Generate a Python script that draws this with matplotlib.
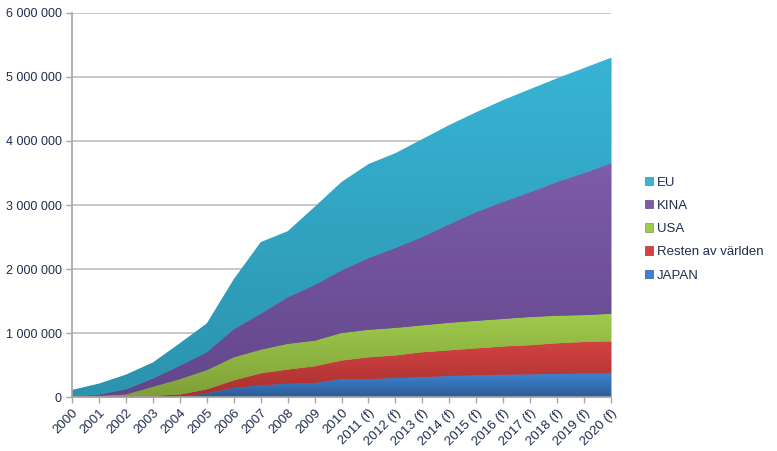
import numpy as np
import matplotlib.pyplot as plt
from matplotlib.colors import LinearSegmentedColormap
from matplotlib.patches import Patch, Polygon
from matplotlib.ticker import FuncFormatter

plt.rcParams['font.family'] = ['Liberation Sans', 'DejaVu Sans']

years = ['2000', '2001', '2002', '2003', '2004', '2005', '2006', '2007', '2008', '2009',
         '2010', '2011 (f)', '2012 (f)', '2013 (f)', '2014 (f)', '2015 (f)', '2016 (f)',
         '2017 (f)', '2018 (f)', '2019 (f)', '2020 (f)']

japan = [0, 0, 0, 0, 5000, 60000, 145000, 185000, 210000, 220000, 280000, 280000, 300000,
         310000, 330000, 340000, 350000, 355000, 360000, 370000, 370000]
resten = [5000, 10000, 20000, 20000, 35000, 60000, 115000, 185000, 220000, 260000, 290000,
          340000, 350000, 390000, 400000, 420000, 440000, 455000, 480000, 490000, 500000]
usa = [5000, 10000, 20000, 140000, 240000, 300000, 360000, 370000, 400000, 400000, 430000,
       430000, 430000, 420000, 430000, 430000, 430000, 440000, 430000, 420000, 430000]
kina = [0, 20000, 80000, 130000, 210000, 280000, 440000, 560000, 730000, 870000, 980000,
        1120000, 1250000, 1380000, 1540000, 1700000, 1830000, 1950000, 2090000, 2220000, 2350000]
eu = [100000, 170000, 230000, 250000, 350000, 450000, 780000, 1120000, 1030000, 1220000,
      1380000, 1470000, 1480000, 1530000, 1550000, 1560000, 1590000, 1610000, 1620000,
      1640000, 1650000]

series = [('JAPAN', japan, '#2d5c98', '#3d82cf'),
          ('Resten av världen', resten, '#a83030', '#d24341'),
          ('USA', usa, '#7f9f38', '#9fcb4c'),
          ('KINA', kina, '#62468a', '#7d5ca9'),
          ('EU', eu, '#2b93ad', '#38b4d6')]

fig = plt.figure(figsize=(7.77, 4.51), dpi=100)
ax = fig.add_axes([0.0927, 0.1197, 0.6937, 0.8515])

x = np.arange(len(years))
base = np.zeros(len(years))
for name, vals, dark, light in series:
    top = base + np.array(vals)
    verts = np.vstack([np.column_stack([x, top]), np.column_stack([x[::-1], base[::-1]])])
    ax.fill_between(x, base, top, color=light, lw=0, zorder=2)
    clip = Polygon(verts, closed=True, transform=ax.transData)
    cmap = LinearSegmentedColormap.from_list(name, [dark, light])
    grad = np.linspace(1, 0, 256).reshape(-1, 1)
    im = ax.imshow(grad, extent=[x[0], x[-1], 0, top.max()], aspect='auto',
                   cmap=cmap, origin='upper', zorder=3)
    im.set_clip_path(clip)
    base = top

ax.set_xlim(0, len(years) - 1)
ax.set_ylim(0, 6000000)
ax.set_yticks(np.arange(0, 6000001, 1000000))
ax.yaxis.set_major_formatter(FuncFormatter(lambda v, p: f"{int(v):,}".replace(",", " ")))
ax.set_xticks(x)
ax.set_xticklabels(years, rotation=45, ha='right', rotation_mode='anchor')
ax.grid(axis='y', color='#bfbfbf', lw=1.2, zorder=1)
ax.set_axisbelow(True)

for s in ['top', 'right']:
    ax.spines[s].set_visible(False)
for s in ['left', 'bottom']:
    ax.spines[s].set_color('#a6a6a6')
    ax.spines[s].set_linewidth(1.2)
    ax.spines[s].set_zorder(5)
ax.tick_params(colors='#a6a6a6', labelcolor='#1f2d4d', labelsize=9, length=4, width=1)
ax.tick_params(axis='x', pad=3, labelsize=9.5)

handles = [Patch(facecolor=light, edgecolor=dark, lw=0.5, label=name)
           for name, vals, dark, light in series[::-1]]
fig.legend(handles=handles, loc='center left', bbox_to_anchor=(0.815, 0.492),
           frameon=False, fontsize=9.5, handlelength=0.6, handleheight=0.6,
           handletextpad=0.3, labelspacing=0.85, labelcolor='#1f2d4d')

fig.savefig('out.png', dpi=100)
